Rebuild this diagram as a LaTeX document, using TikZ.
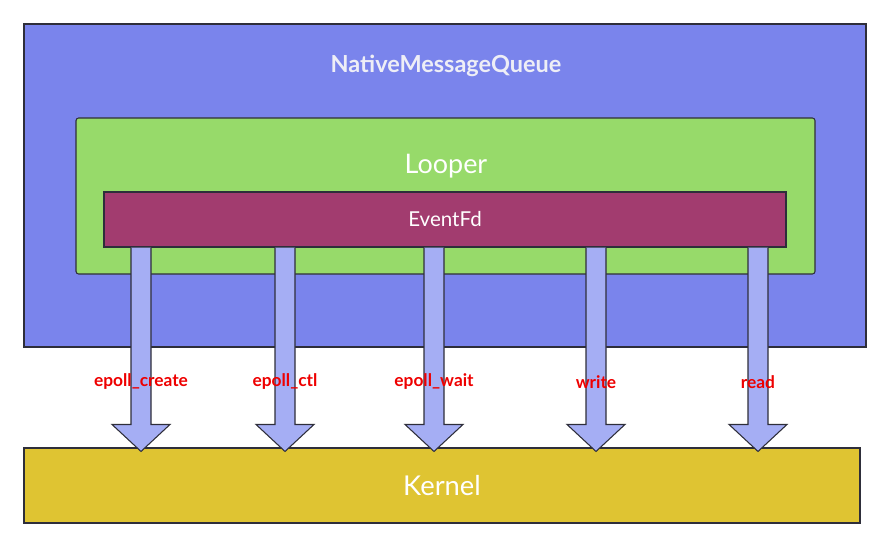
\documentclass[tikz,border=0pt]{standalone}
\usepackage{fontspec}
\setmainfont{Lato}
\usetikzlibrary{calc}
\definecolor{queueblue}{HTML}{7A84EC}
\definecolor{loopgreen}{HTML}{97DA6A}
\definecolor{fdpurple}{HTML}{A23C6F}
\definecolor{kernyellow}{HTML}{DFC432}
\definecolor{arrowblue}{HTML}{A5AEF4}
\definecolor{callred}{HTML}{EE0000}
\definecolor{boxline}{HTML}{2E2E3A}
\definecolor{titlegray}{HTML}{EEEEF6}
\tikzset{
  box/.style={draw=boxline, line width=0.8pt, rectangle, inner sep=0pt},
  queue/.style={box, fill=queueblue, minimum width=631.5pt, minimum height=242.25pt},
  looper/.style={box, fill=loopgreen, rounded corners=2pt, minimum width=554.25pt, minimum height=117pt},
  eventfd/.style={box, fill=fdpurple, text=white, font=\fontsize{15.4}{18}\selectfont, minimum width=511.5pt, minimum height=41.25pt},
  kernel/.style={box, fill=kernyellow, text=white, font=\fontsize{20.5}{24}\selectfont, minimum width=627pt, minimum height=56.25pt},
  title/.style={font=\fontsize{17}{20}\selectfont},
  call/.style={draw=boxline, line width=0.8pt, fill=arrowblue},
  calllabel/.style={text=callred, font=\bfseries\fontsize{13}{15}\selectfont},
}
\begin{document}
\begin{tikzpicture}[x=0.75pt, y=-0.75pt]
  \useasboundingbox (0,0) rectangle (892,549);
  \node[queue] (nmq) at (445,185.5) {};
  \node[title, font=\bfseries\fontsize{17.6}{20}\selectfont, text=titlegray] (nmqtitle) at (446,66) {NativeMessageQueue};
  \node[looper] (looper) at (445.5,196) {};
  \node[title, font=\fontsize{20.2}{24}\selectfont, text=white] (loopertitle) at (446,166) {Looper};
  \node[eventfd] (ev) at (445,219.5) {EventFd};
  \node[kernel] (kern) at (442,485.5) {Kernel};

  % fat arrows from EventFd down to the kernel
  \foreach \cx/\name [count=\i] in {141/epoll\_create, 285/epoll\_ctl, 434/epoll\_wait, 596/write, 758/read}{
    \coordinate (col\i) at (\cx,0);
    \draw[call] let \p1=(ev.south -| col\i), \p2=(kern.north -| col\i) in
      (\x1-7.5pt,\y1) -- (\x1-7.5pt,\y2+17.25pt) -- (\x1-21.75pt,\y2+17.25pt)
      -- (\x1,\y2-3pt) -- (\x1+21.75pt,\y2+17.25pt) -- (\x1+7.5pt,\y2+17.25pt)
      -- (\x1+7.5pt,\y1);
    \node[calllabel] (call\i) at (\cx,382) {\name};
  }
\end{tikzpicture}
\end{document}
